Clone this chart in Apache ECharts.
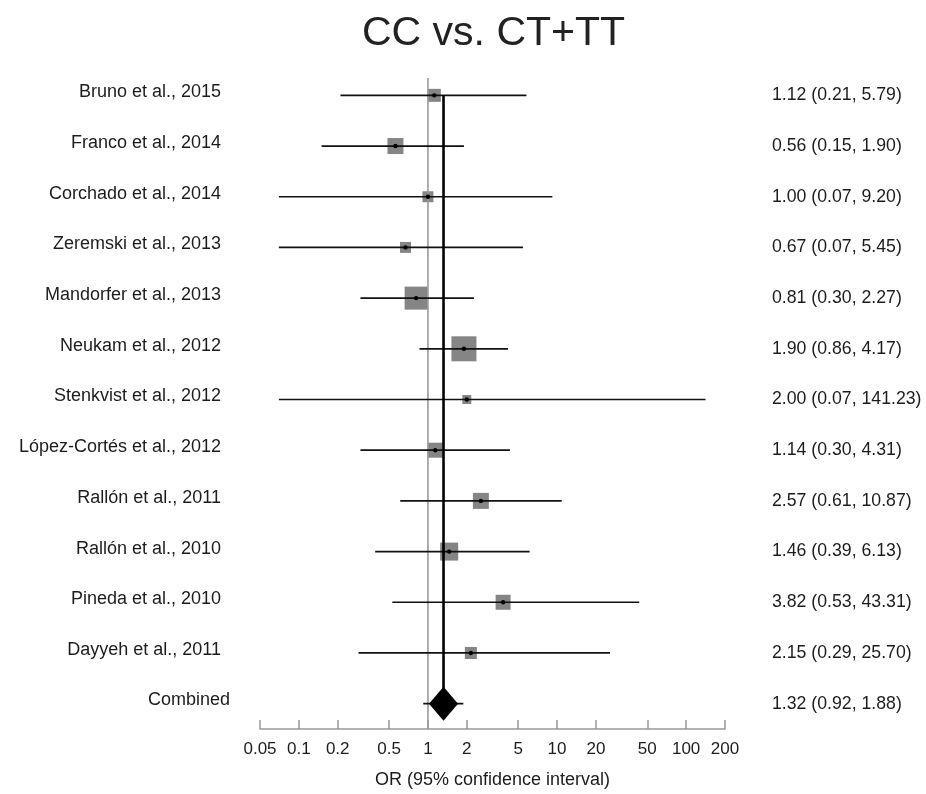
<!DOCTYPE html>
<html>
<head>
<meta charset="utf-8">
<script src="https://cdn.jsdelivr.net/npm/echarts@6/dist/echarts.min.js"></script>
<style>
  html, body { margin: 0; padding: 0; background: #fff; }
  #chart { width: 926px; height: 794px; }
</style>
</head>
<body>
<div id="chart"></div>
<script>
// Study-level odds ratios with 95% confidence intervals
const studies = [
  'Bruno et al., 2015', 'Franco et al., 2014', 'Corchado et al., 2014',
  'Zeremski et al., 2013', 'Mandorfer et al., 2013', 'Neukam et al., 2012',
  'Stenkvist et al., 2012', 'López-Cortés et al., 2012', 'Rallón et al., 2011',
  'Rallón et al., 2010', 'Pineda et al., 2010', 'Dayyeh et al., 2011'
];
const oddsRatio = [1.12, 0.56, 1.00, 0.67, 0.81, 1.90, 2.00, 1.14, 2.57, 1.46, 3.82, 2.15];
const ciLower   = [0.21, 0.15, 0.07, 0.07, 0.30, 0.86, 0.07, 0.30, 0.61, 0.39, 0.53, 0.29];
const ciUpper   = [5.79, 1.90, 9.20, 5.45, 2.27, 4.17, 141.23, 4.31, 10.87, 6.13, 43.31, 25.70];
// Relative study weights (%), shown as box area
const weights   = [5.5, 8.3, 3.9, 3.9, 17.2, 20.3, 2.6, 7.3, 8.3, 10.5, 7.3, 4.7];

// Pooled estimate
const pooledLabel = 'Combined';
const pooledOR = 1.32;
const pooledLower = 0.92;
const pooledUpper = 1.88;

// Axis tick values (odds ratio scale)
const tickValues = [0.05, 0.1, 0.2, 0.5, 1, 2, 5, 10, 20, 50, 100, 200];

const lg = Math.log10;
const rows = studies.concat([pooledLabel]);
const allOR = oddsRatio.concat([pooledOR]);
const allLo = ciLower.concat([pooledLower]);
const allHi = ciUpper.concat([pooledUpper]);
const fmt = v => v.toFixed(2);
const FONT = 'Liberation Sans, Arial, sans-serif';
const TEXT = '#1c1c1c';

const studyData = studies.map((s, i) => [lg(oddsRatio[i]), i, lg(ciLower[i]), lg(ciUpper[i]), weights[i]]);
const pooledData = [[lg(pooledOR), studies.length, lg(pooledLower), lg(pooledUpper)]];

const chart = echarts.init(document.getElementById('chart'), null, { renderer: 'canvas' });

chart.setOption({
  backgroundColor: '#fff',
  animation: false,
  title: {
    text: 'CC vs. CT+TT',
    left: 357,
    top: 8,
    textStyle: { fontFamily: FONT, fontSize: 41, fontWeight: 'normal', color: '#222' }
  },
  grid: { left: 260, right: 201, top: 70, bottom: 64 },
  xAxis: {
    type: 'value',
    min: lg(0.05),
    max: lg(200),
    name: 'OR (95% confidence interval)',
    nameLocation: 'middle',
    nameGap: 42,
    nameTextStyle: { fontFamily: FONT, fontSize: 18, color: TEXT },
    axisLine: { show: true, onZero: false, lineStyle: { color: '#999', width: 1.5 } },
    axisTick: {
      show: true,
      inside: true, length: 9,
      customValues: tickValues.map(lg),
      lineStyle: { color: '#999', width: 1.5 }
    },
    axisLabel: {
      customValues: tickValues.map(lg),
      margin: 12,
      fontFamily: FONT, fontSize: 17, color: TEXT,
      formatter: v => {
        let best = tickValues[0];
        tickValues.forEach(t => { if (Math.abs(lg(t) - v) < Math.abs(lg(best) - v)) best = t; });
        return String(best);
      }
    },
    splitLine: { show: false }
  },
  yAxis: [
    {
      type: 'category',
      data: rows,
      inverse: true,
      axisLine: { show: false },
      axisTick: { show: false },
      splitLine: { show: false },
      axisLabel: {
        margin: 30,
        formatter: (v, i) => (i === studies.length ? '{p|' + v + '}' : '{s|' + v + '}'),
        rich: {
          s: { fontFamily: FONT, fontSize: 18, color: TEXT, padding: [0, 9, 6, 0] },
          p: { fontFamily: FONT, fontSize: 18, color: TEXT, padding: [0, 0, 8, 0] }
        }
      }
    },
    {
      type: 'category',
      data: rows,
      inverse: true,
      position: 'right',
      axisLine: { show: false },
      axisTick: { show: false },
      splitLine: { show: false },
      axisLabel: {
        margin: 47,
        align: 'left',
        fontFamily: FONT, fontSize: 17.7, color: TEXT,
        formatter: (v, i) => fmt(allOR[i]) + ' (' + fmt(allLo[i]) + ', ' + fmt(allHi[i]) + ')'
      }
    }
  ],
  series: [
    {
      // line of no effect at OR = 1
      type: 'custom',
      silent: true,
      data: [[lg(1), 0]],
      encode: { x: 0, y: 1 },
      renderItem: (params, api) => {
        const x = api.coord([api.value(0), 0])[0];
        const cs = params.coordSys;
        return {
          type: 'line', z2: 1,
          shape: { x1: x, y1: cs.y + 8, x2: x, y2: cs.y + cs.height },
          style: { stroke: '#9a9a9a', lineWidth: 1.6 }
        };
      }
    },
    {
      // individual studies: CI line, weighted box, point estimate
      type: 'custom',
      silent: true,
      data: studyData,
      encode: { x: [0, 2, 3], y: 1 },
      renderItem: (params, api) => {
        const row = api.value(1);
        const c = api.coord([api.value(0), row]);
        const lo = api.coord([api.value(2), row]);
        const hi = api.coord([api.value(3), row]);
        const size = 5.55 * Math.sqrt(api.value(4));
        return {
          type: 'group',
          children: [
            { type: 'rect', z2: 0,
              shape: { x: c[0] - size / 2, y: c[1] - size / 2, width: size, height: size },
              style: { fill: '#858585' } },
            { type: 'line', z2: 2,
              shape: { x1: lo[0], y1: c[1], x2: hi[0], y2: c[1] },
              style: { stroke: '#111', lineWidth: 1.7 } },
            { type: 'circle', z2: 3,
              shape: { cx: c[0], cy: c[1], r: 2.2 },
              style: { fill: '#000' } }
          ]
        };
      }
    },
    {
      // pooled estimate: vertical line, diamond and CI whiskers
      type: 'custom',
      silent: true,
      data: pooledData,
      encode: { x: [0, 2, 3], y: 1 },
      renderItem: (params, api) => {
        const row = api.value(1);
        const c = api.coord([api.value(0), row]);
        const lo = api.coord([api.value(2), row]);
        const hi = api.coord([api.value(3), row]);
        const top = api.coord([api.value(0), 0]);
        const hw = 14.5, hh = 17;
        return {
          type: 'group',
          children: [
            { type: 'line', z2: 4,
              shape: { x1: c[0], y1: top[1], x2: c[0], y2: c[1] - hh + 2 },
              style: { stroke: '#000', lineWidth: 2.6 } },
            { type: 'line', z2: 4,
              shape: { x1: lo[0], y1: c[1], x2: hi[0], y2: c[1] },
              style: { stroke: '#111', lineWidth: 1.8 } },
            { type: 'polygon', z2: 5,
              shape: { points: [[c[0] - hw, c[1]], [c[0], c[1] - hh], [c[0] + hw, c[1]], [c[0], c[1] + hh]] },
              style: { fill: '#000' } }
          ]
        };
      }
    }
  ]
});
</script>
</body>
</html>
